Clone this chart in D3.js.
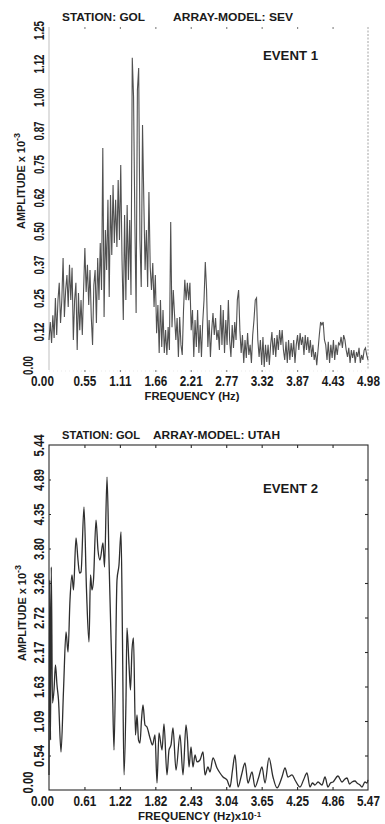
<!DOCTYPE html>
<html>
<head>
<meta charset="utf-8">
<script src="https://cdn.jsdelivr.net/npm/d3@7/dist/d3.min.js"></script>
<style>
  body { margin: 0; background: #fff; }
  svg { display: block; }
  .tick text { font-family: "Liberation Sans", Arial, sans-serif; font-weight: bold; font-size: 14px; fill: #1a1a1a; }
  .ttl { font-family: "Liberation Sans", Arial, sans-serif; font-weight: bold; fill: #1a1a1a; }
</style>
</head>
<body>
<svg id="fig" width="385" height="824"></svg>
<script>
//Event 1, station GOL, array-model SEV : amplitude x 10^-3, one value every 0.02 Hz from 0 Hz
var df1 = 0.02;
var amp1 = [
  0.11,0.176,0.099,0.20,0.117,0.264,0.128,0.256,0.319,0.172,
  0.256,0.41,0.194,0.293,0.348,0.231,0.385,0.256,0.374,0.11,
  0.256,0.319,0.073,0.282,0.146,0.256,0.128,0.293,0.447,0.286,
  0.385,0.238,0.366,0.194,0.092,0.311,0.366,0.172,0.41,0.256,
  0.465,0.293,0.813,0.194,0.513,0.366,0.623,0.267,0.641,0.421,
  0.677,0.465,0.623,0.45,0.696,0.476,0.751,0.403,0.183,0.568,
  0.256,0.604,0.33,0.549,0.275,1.143,1.0,0.549,0.209,1.025,
  1.106,0.476,0.304,0.897,0.623,0.366,0.513,0.304,0.652,0.377,
  0.293,0.392,0.231,0.348,0.135,0.238,0.062,0.256,0.084,0.22,
  0.062,0.146,0.055,0.157,0.073,0.542,0.157,0.293,0.201,0.11,
  0.19,0.048,0.194,0.092,0.055,0.22,0.33,0.256,0.319,0.256,
  0.319,0.146,0.22,0.048,0.183,0.084,0.22,0.062,0.165,0.048,
  0.176,0.256,0.395,0.293,0.084,0.183,0.048,0.146,0.209,0.128,
  0.19,0.11,0.146,0.073,0.238,0.092,0.22,0.062,0.183,0.092,
  0.256,0.11,0.048,0.165,0.081,0.176,0.11,0.256,0.293,0.146,
  0.062,0.128,0.026,0.11,0.044,0.135,0.055,0.092,0.026,0.128,
  0.183,0.256,0.264,0.11,0.048,0.11,0.018,0.121,0.011,0.092,
  0.029,0.092,0.018,0.092,0.139,0.055,0.117,0.048,0.128,0.073,
  0.146,0.092,0.146,0.073,0.037,0.103,0.026,0.11,0.037,0.099,
  0.048,0.11,0.026,0.092,0.128,0.073,0.135,0.092,0.121,0.055,
  0.128,0.073,0.121,0.062,0.11,0.048,0.092,0.037,0.066,0.018,
  0.073,0.128,0.176,0.165,0.176,0.11,0.092,0.037,0.103,0.026,
  0.092,0.044,0.11,0.037,0.092,0.055,0.099,0.092,0.121,0.081,
  0.128,0.11,0.073,0.048,0.081,0.026,0.073,0.044,0.073,0.026,
  0.066,0.048,0.081,0.026,0.055,0.037,0.073,0.081,0.055,0.037
];
var xTicks1  = [0, 0.553, 1.107, 1.66, 2.213, 2.767, 3.32, 3.873, 4.427, 4.98];
var xLabels1 = ["0.00","0.55","1.11","1.66","2.21","2.77","3.32","3.87","4.43","4.98"];
var yTicks1  = [0, 0.1245, 0.249, 0.3735, 0.498, 0.6225, 0.747, 0.8715, 0.996, 1.1205, 1.245];
var yLabels1 = ["0.00","0.12","0.25","0.37","0.50","0.62","0.75","0.87","1.00","1.12","1.25"];

//Event 2, station GOL, array-model UTAH : frequency in Hz x 10^-1, amplitude x 10^-3
var freq2 = [0,0.012,0.026,0.039,0.06,0.086,0.111,0.137,0.163,0.206,
  0.249,0.292,0.326,0.36,0.394,0.42,0.463,0.497,0.523,0.549,
  0.6,0.643,0.686,0.712,0.737,0.763,0.806,0.84,0.874,0.926,
  0.952,0.995,1.029,1.063,1.089,1.115,1.166,1.2,1.235,1.26,
  1.286,1.32,1.337,1.372,1.397,1.423,1.449,1.483,1.509,1.535,
  1.56,1.586,1.612,1.646,1.68,1.732,1.775,1.818,1.852,1.886,
  1.938,1.972,2.023,2.058,2.092,2.126,2.178,2.246,2.298,2.349,
  2.375,2.401,2.435,2.469,2.504,2.538,2.589,2.641,2.675,2.726,
  2.761,2.812,2.881,2.932,2.984,3.052,3.104,3.147,3.189,3.241,
  3.301,3.361,3.412,3.481,3.532,3.592,3.652,3.704,3.772,3.841,
  3.91,3.995,4.047,4.098,4.167,4.218,4.304,4.364,4.424,4.475,
  4.518,4.561,4.613,4.681,4.733,4.784,4.827,4.87,4.955,5.024,
  5.075,5.11,5.153,5.195,5.247,5.281,5.333,5.367,5.418,5.453,5.47];
var amp2 = [0.237,3.311,0.788,3.516,1.372,1.577,1.971,1.656,1.419,0.599,
  1.577,2.491,2.176,2.996,3.39,3.154,3.974,3.627,3.422,3.437,
  4.462,3.154,2.334,3.39,3.154,3.311,4.257,3.784,3.627,3.895,
  3.516,4.935,3.627,2.413,1.577,0.631,3.311,3.548,4.068,2.365,
  0.237,1.419,2.554,1.971,1.577,2.208,2.397,0.867,1.183,0.788,
  0.741,1.104,1.34,1.025,0.993,0.82,0.71,0.867,0.11,0.899,
  0.631,1.041,0.237,0.631,0.71,0.978,0.315,0.867,0.237,1.025,
  0.788,0.363,0.678,0.363,0.552,0.442,0.473,0.599,0.237,0.363,
  0.284,0.505,0.347,0.268,0.205,0.158,0.047,0.315,0.552,0.047,
  0.237,0.426,0.11,0.284,0.047,0.189,0.363,0.11,0.505,0.205,
  0.032,0.205,0.347,0.205,0.237,0.158,0.047,0.158,0.268,0.047,
  0.11,0.079,0.126,0.079,0.205,0.047,0.11,0.126,0.221,0.126,
  0.173,0.189,0.095,0.126,0.142,0.11,0.079,0.047,0.126,0.11,0.158];
var xTicks2  = [0, 0.6078, 1.2156, 1.8233, 2.4311, 3.0389, 3.6467, 4.2544, 4.8622, 5.47];
var xLabels2 = ["0.00","0.61","1.22","1.82","2.43","3.04","3.65","4.25","4.86","5.47"];
var yTicks2  = [0, 0.544, 1.088, 1.632, 2.176, 2.72, 3.264, 3.808, 4.352, 4.896, 5.44];
var yLabels2 = ["0.00","0.54","1.09","1.63","2.17","2.72","3.26","3.80","4.35","4.89","5.44"];

var svg = d3.select("#fig");
var left = 49, right = 368;

//Number labels along the bottom, condensed, first one nudged left like in the plot
function drawXLabels(x, ticks, labels, yAxis) {
  var g = svg.append("g")
      .attr("transform", "translate(0," + yAxis + ")")
      .call(d3.axisBottom(x).tickValues(ticks).tickSize(0)
            .tickFormat(function(d, i) { return labels[i]; }));
  g.select(".domain").remove();
  g.selectAll("text")
      .attr("y", 0).attr("dy", 0)
      .attr("transform", function(d, i) {
        return "translate(" + (i == 0 ? -7 : 0) + ",15.5) scale(0.84,1)";
      });
}

//Rotated number labels along the left side
function drawYLabels(scale, ticks, labels, squeeze, zeroShift) {
  var g = svg.append("g")
      .attr("transform", "translate(" + left + ",0)")
      .call(d3.axisLeft(scale).tickValues(ticks).tickSize(0)
            .tickFormat(function(d, i) { return labels[i]; }));
  g.select(".domain").remove();
  g.selectAll("text")
      .attr("x", 0).attr("y", 0).attr("dy", 0)
      .attr("text-anchor", "middle")
      .attr("transform", function(d, i) {
        var t = i == 0 ? "translate(-16," + zeroShift + ")" : "translate(-5,0)";
        return t + " rotate(-90) scale(" + squeeze + ",1)";
      });
}

//Title text, stretched or squeezed to the width it has in the plot
function title(xp, yp, size, len, txt) {
  return svg.append("text").attr("class", "ttl")
      .attr("font-size", size)
      .attr("x", xp).attr("y", yp)
      .attr("textLength", len).attr("lengthAdjust", "spacingAndGlyphs")
      .text(txt);
}

//Axis title with a superscript part
function labelWithSup(xp, yp, rot, main, len, sup, size) {
  var t = svg.append("text").attr("class", "ttl")
      .attr("font-size", size)
      .attr("text-anchor", "middle")
      .attr("transform", "translate(" + xp + "," + yp + ")" + (rot ? " rotate(-90)" : ""));
  t.append("tspan").attr("textLength", len).attr("lengthAdjust", "spacingAndGlyphs").text(main);
  t.append("tspan").attr("font-size", size - 2).attr("dy", -5).text(sup);
}

// ---------- Event 1 ----------
var top1 = 27, bot1 = 370;
var x1 = d3.scaleLinear().domain([0, 4.98]).range([left, right]);
var y1 = d3.scaleLinear().domain([0, 1.245]).range([bot1, top1 + 3]);
//printed amplitude numbers sit a little above the trace's zero
var y1lab = d3.scaleLinear().domain([0, 1.245]).range([365, 30]);

//faint frame: left and right edges, tick dots top and bottom
svg.append("line").attr("x1", left).attr("x2", left).attr("y1", top1).attr("y2", bot1)
    .attr("stroke", "#b8b8b8").attr("stroke-width", 0.9);
svg.append("line").attr("x1", right).attr("x2", right).attr("y1", top1).attr("y2", bot1)
    .attr("stroke", "#9a9a9a").attr("stroke-width", 0.9).attr("stroke-dasharray", "2,1.5");
svg.append("line").attr("x1", left).attr("x2", right).attr("y1", bot1 + 1).attr("y2", bot1 + 1)
    .attr("stroke", "#e6e6e6").attr("stroke-width", 0.8).attr("stroke-dasharray", "1,3");
[top1, bot1].forEach(function(yy) {
  var g = svg.append("g").attr("transform", "translate(0," + yy + ")")
      .call(d3.axisBottom(x1).tickValues(xTicks1.slice(1, 9)).tickSize(2).tickFormat(""));
  g.select(".domain").remove();
  g.selectAll("line").attr("stroke", "#8a8a8a").attr("stroke-width", 1.2);
});

var line1 = d3.line()
    .x(function(d, i) { return x1(i * df1); })
    .y(function(d) { return y1(d); });
svg.append("path").datum(amp1)
    .attr("d", line1)
    .attr("fill", "none")
    .attr("stroke", "#333")
    .attr("stroke-opacity", 0.85)
    .attr("stroke-width", 1.1);

drawXLabels(x1, xTicks1, xLabels1, bot1);
drawYLabels(y1lab, yTicks1, yLabels1, 0.7, 0);

title(62, 21, 11.5, 83, "STATION: GOL");
title(173, 21, 11.5, 120, "ARRAY-MODEL: SEV");
title(263, 60, 13, 55, "EVENT 1");
svg.append("text").attr("class", "ttl").attr("font-size", 10.5)
    .attr("x", 192).attr("y", 400).attr("text-anchor", "middle")
    .attr("textLength", 95).attr("lengthAdjust", "spacingAndGlyphs")
    .text("FREQUENCY (Hz)");
labelWithSup(25, 181, true, "AMPLITUDE x 10", 88, "-3", 11);

// ---------- Event 2 ----------
var top2 = 445, bot2 = 790;
var x2 = d3.scaleLinear().domain([0, 5.47]).range([left, right]);
var y2 = d3.scaleLinear().domain([0, 5.44]).range([bot2, top2]);

svg.append("rect").attr("x", left).attr("y", top2)
    .attr("width", right - left).attr("height", bot2 - top2)
    .attr("fill", "none").attr("stroke", "#2a2a2a").attr("stroke-width", 1.1);
//inward ticks on the frame
var gt = svg.append("g").attr("transform", "translate(0," + top2 + ")")
    .call(d3.axisBottom(x2).tickValues(xTicks2.slice(1, 9)).tickSize(3).tickFormat(""));
var gb = svg.append("g").attr("transform", "translate(0," + bot2 + ")")
    .call(d3.axisTop(x2).tickValues(xTicks2.slice(1, 9)).tickSize(3).tickFormat(""));
var gr = svg.append("g").attr("transform", "translate(" + right + ",0)")
    .call(d3.axisLeft(y2).tickValues(yTicks2.slice(1, 10)).tickSize(3).tickFormat(""));
var gl = svg.append("g").attr("transform", "translate(" + left + ",0)")
    .call(d3.axisRight(y2).tickValues(yTicks2.slice(1, 10)).tickSize(2).tickFormat(""));
[gt, gb, gr, gl].forEach(function(g) {
  g.select(".domain").remove();
  g.selectAll("line").attr("stroke", "#2a2a2a").attr("stroke-width", 1.1);
});

var line2 = d3.line()
    .curve(d3.curveMonotoneX)
    .x(function(d, i) { return x2(freq2[i]); })
    .y(function(d) { return y2(d); });
svg.append("path").datum(amp2)
    .attr("d", line2)
    .attr("fill", "none")
    .attr("stroke", "#2e2e2e")
    .attr("stroke-width", 1.3);

drawXLabels(x2, xTicks2, xLabels2, bot2);
drawYLabels(y2, yTicks2, yLabels2, 0.8, -8);

title(62, 439, 11.5, 78, "STATION: GOL");
title(153, 439, 11.5, 127, "ARRAY-MODEL: UTAH");
title(263, 493, 13, 55, "EVENT 2");
var fl = svg.append("text").attr("class", "ttl").attr("font-size", 10.5)
    .attr("x", 138).attr("y", 820);
fl.append("tspan").attr("textLength", 116).attr("lengthAdjust", "spacingAndGlyphs")
    .text("FREQUENCY (Hz)x10");
fl.append("tspan").attr("font-size", 8).attr("dy", -3.5).text("-1");
labelWithSup(26, 613, true, "AMPLITUDE x 10", 88, "-3", 11);
</script>
</body>
</html>
